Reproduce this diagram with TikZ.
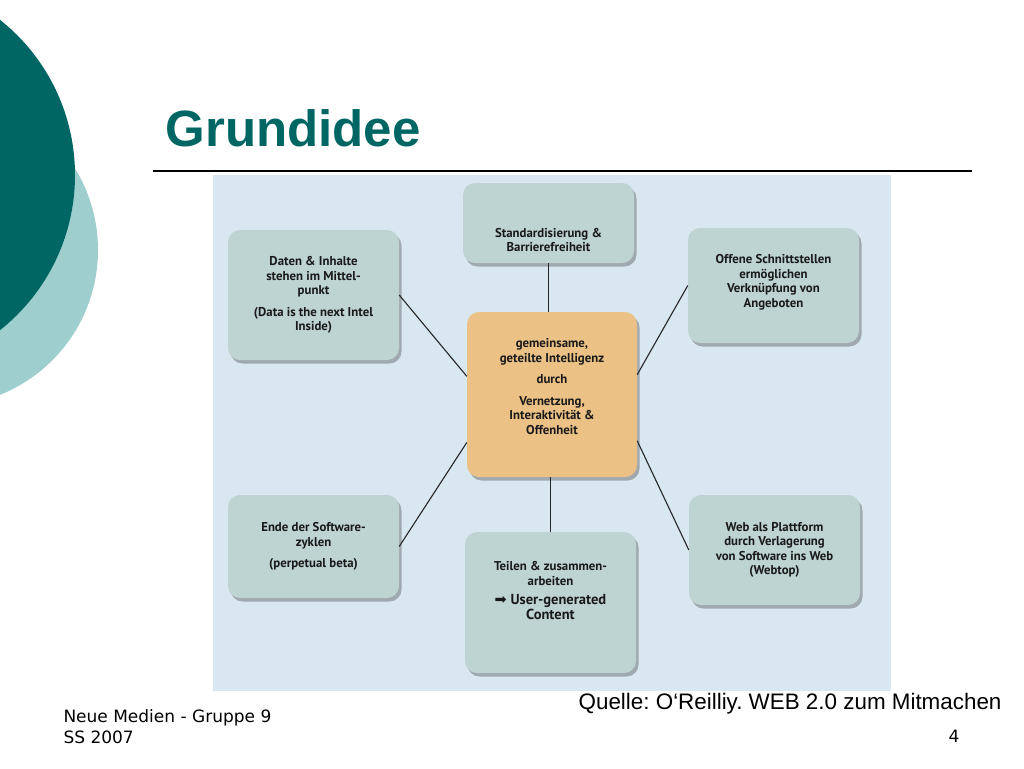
\documentclass[tikz,border=0pt]{standalone}
\usepackage{fontspec}
\setmainfont{Liberation Sans}
\newfontfamily\cardfont{PT Sans}
\newfontfamily\footfont{DejaVu Sans}
\usetikzlibrary{calc,shadows}
\frenchspacing
\definecolor{slideteal}{RGB}{0,102,100}
\definecolor{slidemint}{RGB}{158,206,206}
\definecolor{panelblue}{RGB}{217,231,241}
\definecolor{cardgray}{RGB}{190,212,210}
\definecolor{coreorange}{RGB}{235,193,134}
\newcommand{\bigline}{\fontsize{14.5}{17}\selectfont}
\tikzset{
  card/.style={rounded corners=12pt, fill=cardgray, inner sep=0pt, minimum width=171pt,
    drop shadow={shadow xshift=2.5pt, shadow yshift=-3.5pt, opacity=0.4, fill=black!70}},
  cardtext/.style={align=center, text=black!90, font=\cardfont\bfseries\fontsize{12.8}{14.5}\selectfont},
  link/.style={line width=1.1pt, draw=black!85}
}
\begin{document}
\begin{tikzpicture}[x=1pt,y=-1pt]
			%%%%% FRAME %%%%%
			\useasboundingbox (0,0) rectangle (1024,768);
			\clip (0,0) rectangle (1024,768);
			
			\fill[slidemint] (-58,250) circle (156);
			\fill[slideteal] (-123,175) circle (198);
			
			\node[anchor=base west, text=slideteal, font=\bfseries\fontsize{51}{60}\selectfont] (title) at (162,146) {Grundidee};
			\draw[line width=1.3pt] (153,171) -- (972,171);
			
			\fill[panelblue] (213,175) rectangle (891,691);
			
			%%%%% CARDS %%%%%
			\node[card, minimum height=80pt] (std) at (548.5,223) {};
			\node[card, minimum height=130pt] (data) at (313.5,295) {};
			\node[card, fill=coreorange, minimum width=170pt, minimum height=165pt] (core) at (552,394.5) {};
			\node[card, minimum height=115pt] (open) at (773.5,285.5) {};
			\node[card, minimum height=103pt] (cycle) at (313.5,546.5) {};
			\node[card, minimum height=141pt] (share) at (550.5,602.5) {};
			\node[card, minimum height=110pt] (web) at (774.5,550) {};
			
			\node[cardtext, yshift=-17pt] (stdtext) at (std.center) {Standardisierung \&\\Barrierefreiheit};
			\node[cardtext] (datatext) at (data.center) {Daten \& Inhalte\\stehen im Mittel-\\punkt\\[7pt](Data is the next Intel\\Inside)};
			\node[cardtext, yshift=8pt] (coretext) at (core.center) {gemeinsame,\\geteilte Intelligenz\\[7pt]durch\\[7pt]Vernetzung,\\Interaktivität \&\\Offenheit};
			\node[cardtext, yshift=3pt] (opentext) at (open.center) {Offene Schnittstellen\\ermöglichen\\Verknüpfung von\\Angeboten};
			\node[cardtext] (cycletext) at (cycle.center) {Ende der Software-\\zyklen\\[7pt](perpetual beta)};
			\node[cardtext, yshift=12pt] (sharetext) at (share.center) {Teilen \& zusammen-\\arbeiten\\[5pt]\bigline\footfont\mdseries ➡\cardfont\bfseries{} User-generated\\\bigline Content};
			\node[cardtext] (webtext) at (web.center) {Web als Plattform\\durch Verlagerung\\von Software ins Web\\(Webtop)};
			
			%%%%% LINKS %%%%%
			\draw[link] (std.south) -- (std.south |- core.north);
			\draw[link] (share.north) -- (share.north |- core.south);
			\draw[link] (data.east) -- ($(core.north west)!0.39!(core.south west)$);
			\draw[link] (cycle.east) -- ($(core.north west)!0.79!(core.south west)$);
			\draw[link] (open.west) -- ($(core.north east)!0.38!(core.south east)$);
			\draw[link] (web.west) -- ($(core.north east)!0.78!(core.south east)$);
			
			%%%%% FOOTER %%%%%
			\node[anchor=base east, font=\fontsize{22.4}{26}\selectfont] (source) at (1005,709) {Quelle: O‘Reilliy. WEB 2.0 zum Mitmachen};
			\node[anchor=base west, font=\footfont\fontsize{17}{20}\selectfont] (footA) at (60,722) {Neue Medien - Gruppe 9};
			\node[anchor=base west, font=\footfont\fontsize{17}{20}\selectfont] (footB) at (60,743) {SS 2007};
			\node[anchor=base east, font=\footfont\fontsize{17}{20}\selectfont] (page) at (963,742) {4};
		\end{tikzpicture}
\end{document}
